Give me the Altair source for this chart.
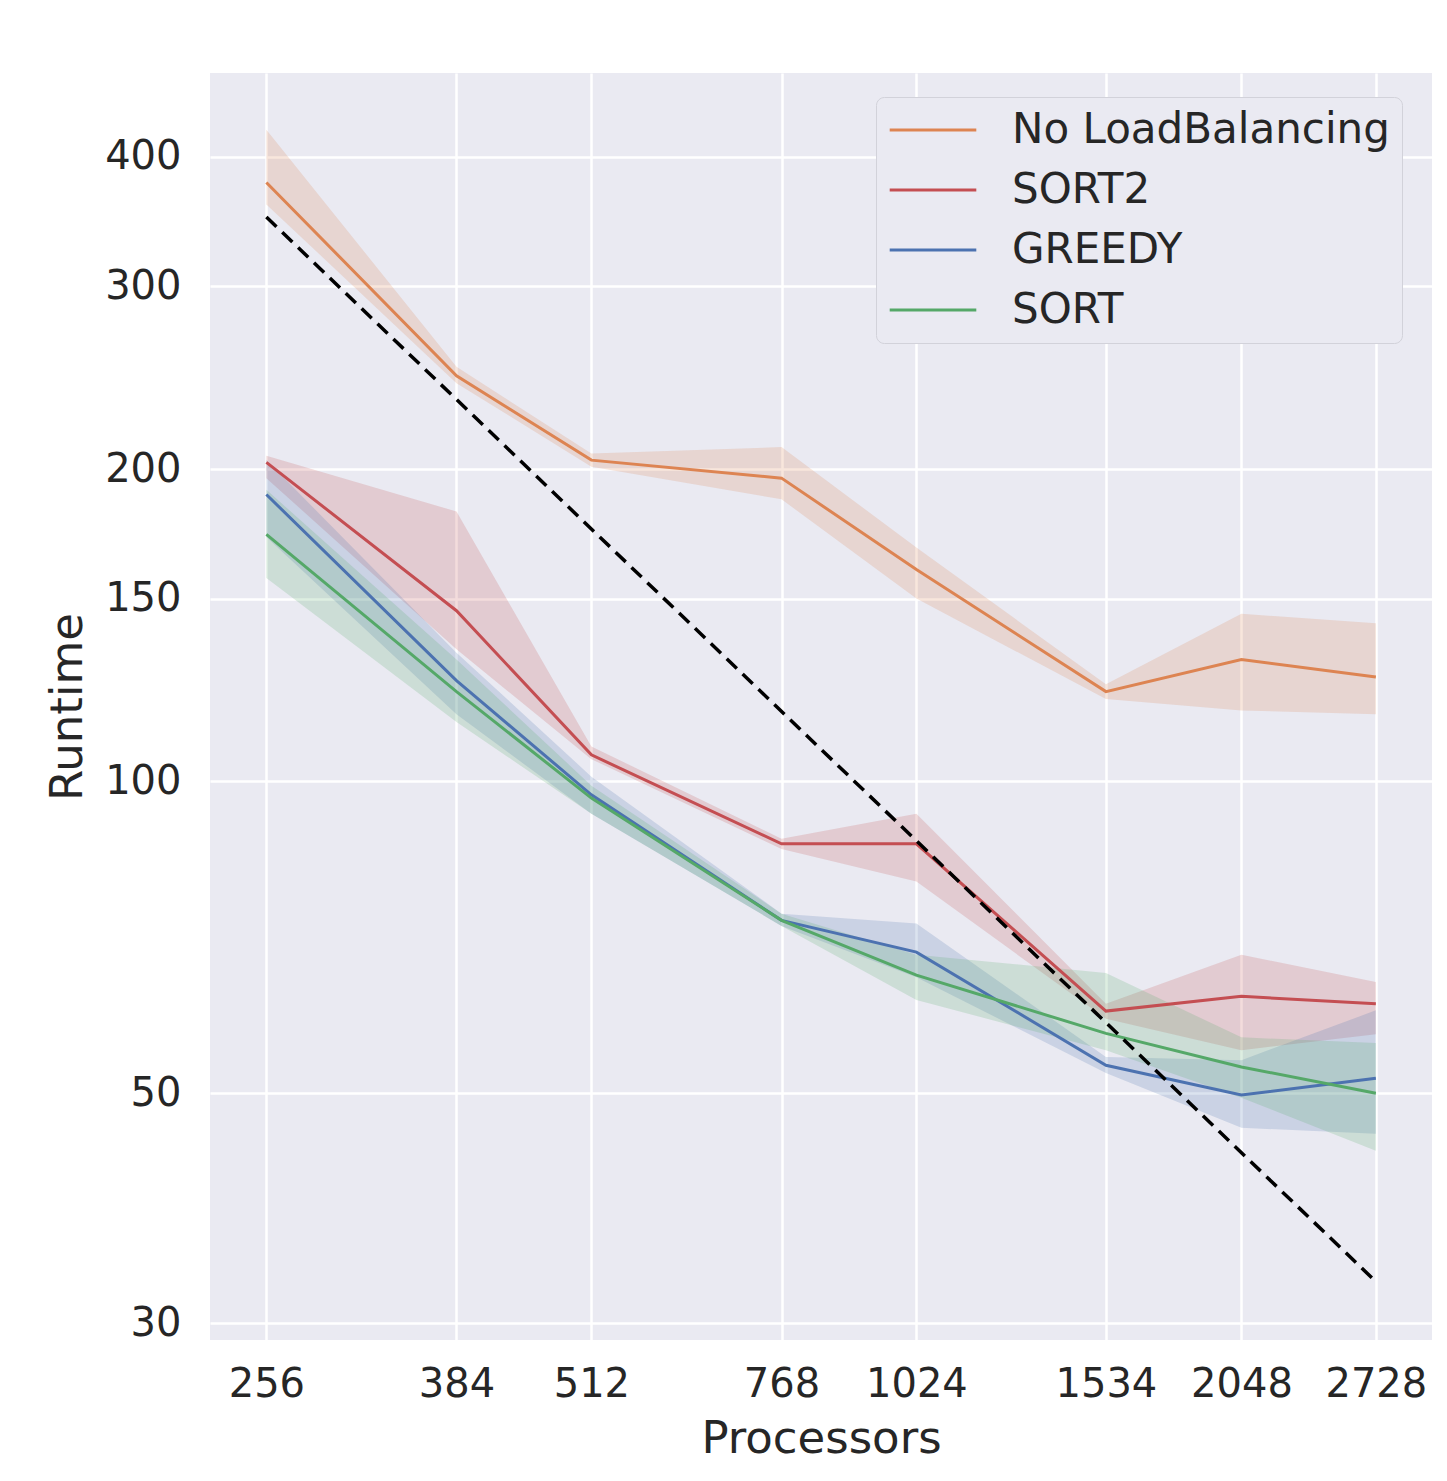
import altair as alt
import pandas as pd

procs = [256, 384, 512, 768, 1024, 1534, 2048, 2728]
series = ["No LoadBalancing", "SORT2", "GREEDY", "SORT"]
colors = ["#DD8452", "#C44E52", "#4C72B0", "#55A868"]

nolb_mean = [378, 246, 204, 196, 160, 122, 131, 126]
nolb_lo = [360, 242, 201, 187, 150, 120, 117, 116]
nolb_hi = [425, 251, 207, 210, 168, 124, 145, 142]

sort2_mean = [203, 146, 106, 87, 87, 60, 62, 61]
sort2_lo = [196, 134, 105, 86, 80, 59, 55, 57]
sort2_hi = [206, 182, 108, 88, 93, 61, 68, 64]

greedy_mean = [189, 125, 97, 73.4, 68.4, 53.2, 49.8, 51.7]
greedy_lo = [172, 116, 93, 72.5, 64.7, 52.3, 46.3, 45.7]
greedy_hi = [204, 133, 101, 74.5, 72.9, 54.2, 53.8, 60.1]

sort_mean = [173, 122, 96.3, 73.4, 65, 57.1, 53, 50]
sort_lo = [157, 114, 93, 72.5, 61.5, 55, 49.5, 44]
sort_hi = [191, 131, 99, 74.5, 68, 65.3, 56.6, 55.9]

ideal_procs = [256, 2728]
ideal_runtime = [350, 32.9]

rows = []
for name, m, lo, hi in [
    ("No LoadBalancing", nolb_mean, nolb_lo, nolb_hi),
    ("SORT2", sort2_mean, sort2_lo, sort2_hi),
    ("GREEDY", greedy_mean, greedy_lo, greedy_hi),
    ("SORT", sort_mean, sort_lo, sort_hi),
]:
    for p, a, b, c in zip(procs, m, lo, hi):
        rows.append({"Processors": p, "Runtime": a, "lo": b, "hi": c, "series": name})
df = pd.DataFrame(rows)
ideal = pd.DataFrame({"Processors": ideal_procs, "Runtime": ideal_runtime})

FONT = "DejaVu Sans"
TXT = "#262626"

xscale = alt.Scale(type="log", domain=[227, 3075], nice=False)
yscale = alt.Scale(type="log", domain=[28.9, 482], nice=False)
cscale = alt.Scale(domain=series, range=colors)

xaxis = alt.Axis(values=procs, format="d", title="Processors", grid=True, ticks=False,
                 domain=False, labelFontSize=40, titleFontSize=45, labelPadding=24,
                 titlePadding=12, labelColor=TXT, titleColor=TXT, labelFont=FONT,
                 titleFont=FONT, titleFontWeight="normal", gridColor="white", gridWidth=2.5)
yaxis = alt.Axis(values=[30, 50, 100, 150, 200, 300, 400], format="d", title="Runtime",
                 grid=True, ticks=False, domain=False, labelFontSize=40, titleFontSize=45,
                 labelPadding=29, titlePadding=14, labelColor=TXT, titleColor=TXT,
                 labelFont=FONT, titleFont=FONT, titleFontWeight="normal",
                 gridColor="white", gridWidth=2.5)

bands = alt.Chart(df).mark_area(opacity=0.2).encode(
    x=alt.X("Processors:Q", scale=xscale, axis=xaxis),
    y=alt.Y("lo:Q", scale=yscale, axis=yaxis),
    y2="hi:Q",
    fill=alt.Fill("series:N", scale=cscale, legend=None),
    detail="series:N",
)

lines = alt.Chart(df).mark_line(strokeWidth=3).encode(
    x=alt.X("Processors:Q", scale=xscale),
    y=alt.Y("Runtime:Q", scale=yscale),
    color=alt.Color("series:N", scale=cscale, sort=series, legend=alt.Legend(
        title=None, orient="none", legendX=666, legendY=24, symbolType="stroke",
        symbolStrokeWidth=3, symbolSize=7500, labelFontSize=42, labelFont=FONT,
        labelColor=TXT, labelOffset=34, clipHeight=42, rowPadding=18, padding=12,
        fillColor="#EAEAF2", strokeColor="#d2d2da", cornerRadius=8, labelLimit=600)),
)

dashed = alt.Chart(ideal).mark_line(color="black", strokeWidth=3.5, strokeDash=[14, 8]).encode(
    x=alt.X("Processors:Q", scale=xscale),
    y=alt.Y("Runtime:Q", scale=yscale),
)

chart = alt.layer(bands, lines, dashed).resolve_scale(fill="independent").properties(
    width=1222, height=1267,
    autosize=alt.AutoSizeParams(type="none"),
    padding={"left": 202, "top": 65, "right": 7, "bottom": 133},
    background="white",
).configure_view(fill="#EAEAF2", stroke=None)

chart.save("out.html", embed_options={"renderer": "svg", "actions": False})
